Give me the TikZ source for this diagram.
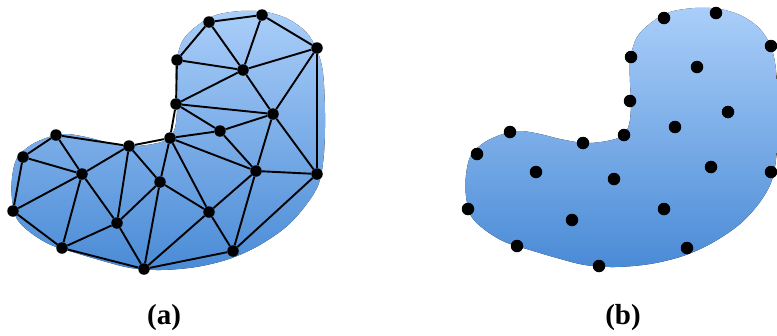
\documentclass[tikz,border=0pt]{standalone}
\usepackage{fontspec}
\setmainfont{Liberation Serif}
\begin{document}
\begin{tikzpicture}[x=1pt,y=-1pt,
  dota/.style={circle,fill=black,inner sep=0pt,minimum size=11.5pt},
  dotb/.style={circle,fill=black,inner sep=0pt,minimum size=12.5pt},
  mesh/.style={line width=1.9pt,black},
  blob/.style={top color=blobtop,bottom color=blobbot,draw=none},
  lab/.style={font=\bfseries\fontsize{29}{31}\selectfont}]
\definecolor{blobtop}{RGB}{170,206,249}
\definecolor{blobbot}{RGB}{74,139,214}
\useasboundingbox (0,0) rectangle (777,335);
\begin{scope}
\clip (0,0) rectangle (777,335);
% blob (b)
\fill[blob] plot[smooth cycle,tension=0.55] coordinates {(630,60) (637,37) (652,22) (670,12) (695,8) (720,9) (742,16) (760,29) (771,47) (776,70) (778,110) (777,150) (772,180) (760,202) (740,224) (712,243) (683,256) (650,264) (615,267) (585,265) (557,258) (530,250) (505,242) (485,230) (471,216) (466,196) (466,175) (471,155) (485,142) (503,134) (520,131) (540,134) (560,139) (585,143) (607,141) (622,136) (629,125) (631,105) (630,82)};
% blob (a)
\begin{scope}[shift={(-454,3)}]
\fill[blob] plot[smooth cycle,tension=0.55] coordinates {(630,60) (637,37) (652,22) (670,12) (695,8) (720,9) (742,16) (760,29) (771,47) (777,70) (779,110) (778,150) (773,180) (760,202) (740,224) (712,243) (683,256) (650,264) (615,267) (585,265) (557,258) (530,250) (505,242) (485,230) (471,216) (466,196) (466,175) (471,155) (485,142) (503,134) (520,131) (540,134) (560,139) (585,143) (607,141) (622,136) (629,125) (631,105) (630,82)};
\end{scope}
\end{scope}
% mesh points (a)
\node[dota] (a1) at (209,22) {};
\node[dota] (a2) at (262,15) {};
\node[dota] (a3) at (317,48) {};
\node[dota] (a4) at (177,60) {};
\node[dota] (a5) at (243,70) {};
\node[dota] (a6) at (176,104) {};
\node[dota] (a7) at (273,114) {};
\node[dota] (a8) at (220,131) {};
\node[dota] (a9) at (170,138) {};
\node[dota] (a10) at (56,135) {};
\node[dota] (a11) at (129,146) {};
\node[dota] (a12) at (23,157) {};
\node[dota] (a13) at (82,174) {};
\node[dota] (a14) at (160,182) {};
\node[dota] (a15) at (256,171) {};
\node[dota] (a16) at (317,174) {};
\node[dota] (a17) at (13,211) {};
\node[dota] (a18) at (117,223) {};
\node[dota] (a19) at (209,212) {};
\node[dota] (a20) at (62,248) {};
\node[dota] (a21) at (233,251) {};
\node[dota] (a22) at (144,269) {};
\draw[mesh] (a1)--(a2) (a2)--(a3) (a1)--(a4) (a1)--(a5) (a2)--(a5) (a3)--(a5)
 (a4)--(a5) (a4)--(a6) (a6)--(a5) (a5)--(a7) (a3)--(a7) (a3)--(a16)
 (a6)--(a7) (a6)--(a8) (a8)--(a7) (a6)--(a9) (a9)--(a8) (a7)--(a15)
 (a8)--(a15) (a7)--(a16) (a15)--(a16) (a9)--(a15) (a9)--(a19) (a9)--(a11)
 (a9)--(a14) (a11)--(a10) (a11)--(a13) (a11)--(a14) (a11)--(a18)
 (a10)--(a12) (a10)--(a13) (a12)--(a13) (a12)--(a17) (a13)--(a17)
 (a13)--(a18) (a13)--(a20) (a17)--(a20) (a18)--(a14) (a18)--(a20)
 (a18)--(a22) (a20)--(a22) (a22)--(a14) (a22)--(a19) (a22)--(a21)
 (a14)--(a19) (a19)--(a15) (a19)--(a21) (a21)--(a15) (a21)--(a16);
% points (b)
\node[dotb] (b1) at (664,18) {};
\node[dotb] (b2) at (716,13) {};
\node[dotb] (b3) at (771,46) {};
\node[dotb] (b4) at (631,57) {};
\node[dotb] (b5) at (697,67) {};
\node[dotb] (b6) at (630,101) {};
\node[dotb] (b7) at (728,112) {};
\node[dotb] (b8) at (675,127) {};
\node[dotb] (b9) at (624,135) {};
\node[dotb] (b10) at (510,132) {};
\node[dotb] (b11) at (583,143) {};
\node[dotb] (b12) at (477,154) {};
\node[dotb] (b13) at (536,172) {};
\node[dotb] (b14) at (614,179) {};
\node[dotb] (b15) at (711,167) {};
\node[dotb] (b16) at (771,172) {};
\node[dotb] (b17) at (468,209) {};
\node[dotb] (b18) at (572,220) {};
\node[dotb] (b19) at (664,209) {};
\node[dotb] (b20) at (517,246) {};
\node[dotb] (b21) at (687,248) {};
\node[dotb] (b22) at (599,266) {};
% labels
\node[lab] (la) at (164,318) {(a)};
\node[lab] (lb) at (623,318) {(b)};
\end{tikzpicture}
\end{document}
